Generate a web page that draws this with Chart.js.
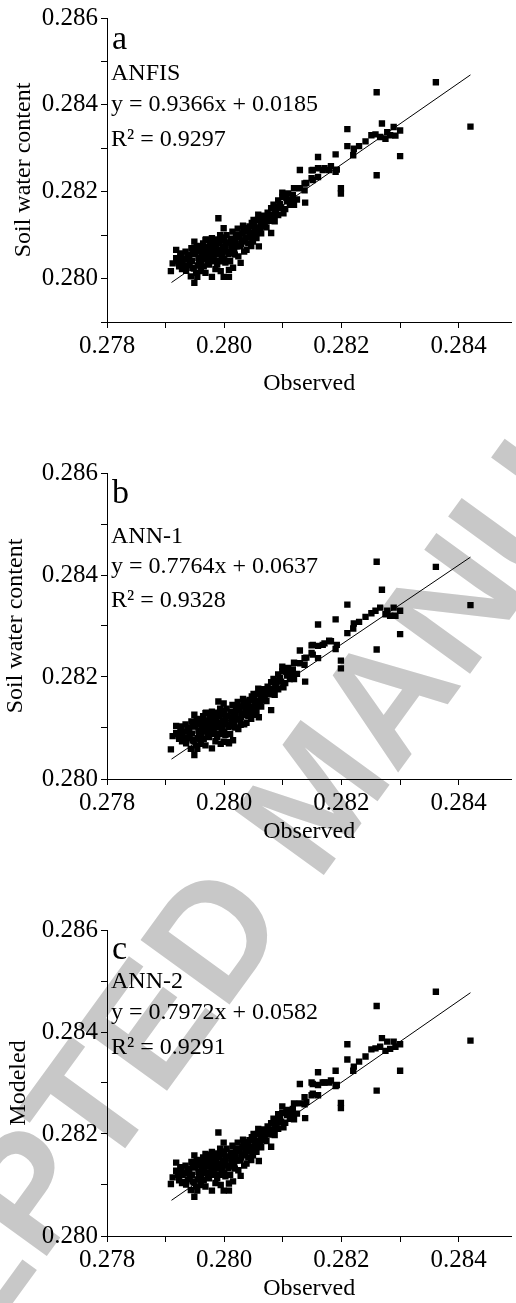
<!DOCTYPE html>
<html lang="en">
<head>
<meta charset="UTF-8">
<title>Observed vs modeled soil water content</title>
<script src="https://cdn.jsdelivr.net/npm/chart.js"></script>
<style>
  html, body { margin: 0; padding: 0; background: #fff; }
  #page { position: relative; width: 516px; height: 1303px; overflow: hidden; }
  canvas { position: absolute; left: 0; }
</style>
</head>
<body>
<div id="page">
  <canvas id="watermark" width="516" height="1303" style="top:0"></canvas>
  <canvas id="chartA" width="516" height="400" style="top:0"></canvas>
  <canvas id="chartB" width="516" height="406" style="top:440px"></canvas>
  <canvas id="chartC" width="516" height="403" style="top:900px"></canvas>
</div>
<script>
// observed soil water content (shared x of all three panels)
const observed = [
  0.27909, 0.27918, 0.27918, 0.27923, 0.27929, 0.27932, 0.27937, 0.27941, 0.27943, 0.27946,
  0.27946, 0.27949, 0.27949, 0.27952, 0.27952, 0.27954, 0.27957, 0.27960, 0.27960, 0.27963,
  0.27968, 0.27968, 0.27969, 0.27974, 0.27974, 0.27979, 0.27979, 0.27982, 0.27988, 0.27990,
  0.27991, 0.27994, 0.27996, 0.27999, 0.27999, 0.28002, 0.28002, 0.28008, 0.28008, 0.28010,
  0.28010, 0.28016, 0.28022, 0.28024, 0.28027, 0.28028, 0.28033, 0.28036, 0.28038, 0.28041,
  0.28041, 0.28047, 0.28049, 0.28050, 0.28052, 0.28055, 0.28058, 0.28059, 0.28064, 0.28069,
  0.28070, 0.28075, 0.28080, 0.28080, 0.28080, 0.28084, 0.28089, 0.28089, 0.28097, 0.28099,
  0.28099, 0.28101, 0.28109, 0.28114, 0.28119, 0.28119, 0.28129, 0.28129, 0.28137, 0.28137,
  0.28138, 0.28140, 0.28149, 0.28149, 0.28151, 0.28151, 0.28160, 0.28160, 0.28160, 0.28168,
  0.28171, 0.28179, 0.28182, 0.28190, 0.28190, 0.28192, 0.28199, 0.28199, 0.28210, 0.28210,
  0.28220, 0.28221, 0.28230, 0.28241, 0.28251, 0.28258, 0.28260, 0.28260, 0.28266, 0.28269,
  0.28275, 0.28278, 0.28283, 0.28289, 0.28292, 0.28300, 0.28300, 0.28361, 0.28420, 0.27926,
  0.27935, 0.27940, 0.27955, 0.27962, 0.27965, 0.27971, 0.27977, 0.27980, 0.27985, 0.27988,
  0.27993, 0.27997, 0.28000, 0.28005, 0.28013, 0.28018, 0.28020, 0.28030, 0.28034, 0.28044,
  0.28046, 0.28061, 0.28066, 0.28092, 0.28107, 0.27912, 0.27985, 0.28015,
  0.27921, 0.27925, 0.27928, 0.27931, 0.27934, 0.27938, 0.27940, 0.27944, 0.27945, 0.27948,
  0.27950, 0.27953, 0.27956, 0.27958, 0.27961, 0.27964, 0.27966, 0.27967, 0.27970, 0.27972,
  0.27975, 0.27976, 0.27978, 0.27981, 0.27983, 0.27984, 0.27986, 0.27989, 0.27992, 0.27993,
  0.27995, 0.27998, 0.28000, 0.28001, 0.28004, 0.28006, 0.28007, 0.28011, 0.28012, 0.28014,
  0.28017, 0.28019, 0.28021, 0.28023, 0.28026, 0.28029, 0.28031, 0.28032, 0.28035, 0.28037,
  0.28040, 0.28043, 0.28045, 0.28048, 0.28051, 0.28053, 0.28056, 0.28057, 0.28062, 0.28063,
  0.28067, 0.28068, 0.28072, 0.28074, 0.28077, 0.28082, 0.28086, 0.28087, 0.28092, 0.28095,
  0.28104, 0.28106, 0.28112, 0.28117, 0.28124
];

// modeled values, panel a
const anfis = [
  0.28017, 0.28066, 0.28047, 0.28028, 0.28040, 0.28028, 0.28055, 0.28035, 0.28005, 0.28059,
  0.28025, 0.28085, 0.27990, 0.28062, 0.28013, 0.28004, 0.28040, 0.28017, 0.28074, 0.28070,
  0.28089, 0.28013, 0.28090, 0.28032, 0.28059, 0.28093, 0.28004, 0.28051, 0.28032, 0.28139,
  0.28066, 0.28017, 0.28051, 0.28116, 0.28004, 0.28078, 0.28037, 0.28004, 0.28020, 0.28059,
  0.28040, 0.28085, 0.28101, 0.28051, 0.28074, 0.28036, 0.28112, 0.28093, 0.28066, 0.28116,
  0.28081, 0.28128, 0.28085, 0.28135, 0.28112, 0.28093, 0.28147, 0.28074, 0.28131, 0.28120,
  0.28135, 0.28143, 0.28162, 0.28147, 0.28105, 0.28170, 0.28154, 0.28166, 0.28163, 0.28198,
  0.28188, 0.28150, 0.28196, 0.28181, 0.28208, 0.28170, 0.28250, 0.28208, 0.28219, 0.28203,
  0.28175, 0.28220, 0.28249, 0.28231, 0.28250, 0.28227, 0.28280, 0.28254, 0.28234, 0.28250,
  0.28254, 0.28250, 0.28259, 0.28286, 0.28246, 0.28251, 0.28208, 0.28196, 0.28344, 0.28305,
  0.28284, 0.28299, 0.28305, 0.28316, 0.28330, 0.28332, 0.28429, 0.28238, 0.28326, 0.28357,
  0.28322, 0.28337, 0.28330, 0.28349, 0.28329, 0.28341, 0.28282, 0.28452, 0.28350, 0.28050,
  0.28018, 0.28045, 0.28030, 0.28052, 0.28028, 0.28072, 0.28045, 0.28078, 0.28062, 0.28088,
  0.28040, 0.28072, 0.28095, 0.28062, 0.28078, 0.28055, 0.28098, 0.28088, 0.28062, 0.28100,
  0.28075, 0.28110, 0.28140, 0.28180, 0.28178, 0.28035, 0.28022, 0.28025,
  0.28040, 0.28058, 0.28022, 0.28045, 0.28062, 0.28030, 0.28052, 0.28070, 0.28041, 0.28023,
  0.28057, 0.28075, 0.28048, 0.28064, 0.28036, 0.28081, 0.28058, 0.28045, 0.28063, 0.28038,
  0.28084, 0.28070, 0.28056, 0.28067, 0.28040, 0.28090, 0.28075, 0.28055, 0.28082, 0.28100,
  0.28062, 0.28088, 0.28045, 0.28070, 0.28100, 0.28083, 0.28056, 0.28092, 0.28070, 0.28108,
  0.28064, 0.28086, 0.28074, 0.28115, 0.28095, 0.28080, 0.28104, 0.28122, 0.28085, 0.28108,
  0.28095, 0.28120, 0.28105, 0.28092, 0.28124, 0.28102, 0.28118, 0.28135, 0.28122, 0.28104,
  0.28145, 0.28130, 0.28118, 0.28152, 0.28133, 0.28145, 0.28132, 0.28158, 0.28146, 0.28172,
  0.28160, 0.28186, 0.28170, 0.28192, 0.28182
];

// modeled values, panel b
const ann1 = [
  0.28058, 0.28104, 0.28090, 0.28079, 0.28088, 0.28076, 0.28101, 0.28084, 0.28059, 0.28104,
  0.28076, 0.28126, 0.28047, 0.28107, 0.28066, 0.28059, 0.28088, 0.28069, 0.28117, 0.28113,
  0.28129, 0.28066, 0.28130, 0.28082, 0.28104, 0.28132, 0.28060, 0.28098, 0.28082, 0.28152,
  0.28110, 0.28069, 0.28098, 0.28148, 0.28073, 0.28120, 0.28086, 0.28070, 0.28072, 0.28104,
  0.28088, 0.28126, 0.28139, 0.28098, 0.28117, 0.28106, 0.28148, 0.28132, 0.28110, 0.28152,
  0.28123, 0.28162, 0.28126, 0.28167, 0.28148, 0.28132, 0.28177, 0.28121, 0.28164, 0.28155,
  0.28167, 0.28174, 0.28190, 0.28177, 0.28135, 0.28196, 0.28183, 0.28193, 0.28191, 0.28220,
  0.28211, 0.28180, 0.28218, 0.28206, 0.28228, 0.28196, 0.28252, 0.28227, 0.28237, 0.28224,
  0.28191, 0.28238, 0.28262, 0.28247, 0.28263, 0.28244, 0.28303, 0.28261, 0.28237, 0.28263,
  0.28266, 0.28271, 0.28270, 0.28313, 0.28255, 0.28263, 0.28232, 0.28217, 0.28342, 0.28286,
  0.28295, 0.28305, 0.28308, 0.28318, 0.28325, 0.28330, 0.28426, 0.28254, 0.28336, 0.28371,
  0.28323, 0.28330, 0.28320, 0.28336, 0.28320, 0.28330, 0.28284, 0.28416, 0.28341, 0.28097,
  0.28070, 0.28093, 0.28080, 0.28098, 0.28079, 0.28115, 0.28093, 0.28120, 0.28107, 0.28128,
  0.28088, 0.28115, 0.28134, 0.28107, 0.28120, 0.28101, 0.28137, 0.28128, 0.28107, 0.28138,
  0.28118, 0.28147, 0.28172, 0.28205, 0.28203, 0.28084, 0.28074, 0.28076,
  0.28088, 0.28103, 0.28074, 0.28093, 0.28107, 0.28080, 0.28098, 0.28113, 0.28089, 0.28074,
  0.28103, 0.28118, 0.28095, 0.28108, 0.28085, 0.28123, 0.28103, 0.28093, 0.28108, 0.28087,
  0.28125, 0.28113, 0.28102, 0.28111, 0.28088, 0.28130, 0.28118, 0.28101, 0.28123, 0.28138,
  0.28107, 0.28128, 0.28093, 0.28113, 0.28138, 0.28124, 0.28102, 0.28132, 0.28113, 0.28145,
  0.28108, 0.28127, 0.28117, 0.28151, 0.28134, 0.28122, 0.28142, 0.28157, 0.28126, 0.28145,
  0.28134, 0.28155, 0.28142, 0.28132, 0.28158, 0.28140, 0.28153, 0.28167, 0.28157, 0.28142,
  0.28176, 0.28163, 0.28153, 0.28181, 0.28166, 0.28176, 0.28165, 0.28186, 0.28176, 0.28198,
  0.28188, 0.28210, 0.28196, 0.28215, 0.28206
];

// modeled values, panel c
const ann2 = [
  0.28102, 0.28144, 0.28128, 0.28109, 0.28120, 0.28106, 0.28132, 0.28115, 0.28090, 0.28136,
  0.28107, 0.28158, 0.28077, 0.28138, 0.28097, 0.28089, 0.28120, 0.28100, 0.28148, 0.28145,
  0.28161, 0.28097, 0.28159, 0.28113, 0.28136, 0.28165, 0.28089, 0.28129, 0.28113, 0.28203,
  0.28142, 0.28100, 0.28129, 0.28183, 0.28089, 0.28152, 0.28117, 0.28089, 0.28103, 0.28136,
  0.28120, 0.28158, 0.28171, 0.28129, 0.28148, 0.28118, 0.28181, 0.28165, 0.28142, 0.28184,
  0.28154, 0.28194, 0.28158, 0.28200, 0.28181, 0.28165, 0.28210, 0.28147, 0.28197, 0.28188,
  0.28200, 0.28207, 0.28221, 0.28208, 0.28175, 0.28230, 0.28216, 0.28227, 0.28224, 0.28254,
  0.28241, 0.28213, 0.28247, 0.28239, 0.28260, 0.28229, 0.28298, 0.28260, 0.28272, 0.28258,
  0.28231, 0.28263, 0.28301, 0.28276, 0.28298, 0.28279, 0.28321, 0.28296, 0.28276, 0.28301,
  0.28301, 0.28301, 0.28305, 0.28324, 0.28294, 0.28296, 0.28261, 0.28251, 0.28376, 0.28346,
  0.28324, 0.28332, 0.28342, 0.28352, 0.28366, 0.28368, 0.28451, 0.28285, 0.28371, 0.28388,
  0.28363, 0.28381, 0.28367, 0.28381, 0.28371, 0.28376, 0.28324, 0.28479, 0.28383, 0.28128,
  0.28101, 0.28124, 0.28111, 0.28130, 0.28109, 0.28147, 0.28124, 0.28152, 0.28138, 0.28160,
  0.28120, 0.28147, 0.28166, 0.28138, 0.28152, 0.28132, 0.28169, 0.28160, 0.28138, 0.28171,
  0.28149, 0.28179, 0.28205, 0.28239, 0.28237, 0.28115, 0.28104, 0.28107,
  0.28120, 0.28135, 0.28104, 0.28124, 0.28138, 0.28111, 0.28130, 0.28145, 0.28120, 0.28105,
  0.28134, 0.28149, 0.28126, 0.28140, 0.28116, 0.28154, 0.28135, 0.28124, 0.28139, 0.28118,
  0.28157, 0.28145, 0.28133, 0.28142, 0.28120, 0.28162, 0.28149, 0.28132, 0.28155, 0.28171,
  0.28138, 0.28160, 0.28124, 0.28145, 0.28171, 0.28156, 0.28133, 0.28164, 0.28145, 0.28177,
  0.28140, 0.28159, 0.28148, 0.28183, 0.28166, 0.28154, 0.28174, 0.28189, 0.28158, 0.28177,
  0.28166, 0.28188, 0.28175, 0.28164, 0.28191, 0.28172, 0.28186, 0.28200, 0.28189, 0.28174,
  0.28209, 0.28196, 0.28186, 0.28215, 0.28199, 0.28209, 0.28198, 0.28220, 0.28210, 0.28232,
  0.28222, 0.28244, 0.28230, 0.28249, 0.28240
];

// regression line end points
const fitX = [0.2791, 0.2842];
const fitA = [0.27991, 0.28469];
const fitB = [0.28039, 0.28435];
const fitC = [0.28070, 0.28477];

const panelLetters = ['a', 'b', 'c'];
const modelNames = ['ANFIS', 'ANN-1', 'ANN-2'];
const equations = ['y = 0.9366x + 0.0185', 'y = 0.7764x + 0.0637', 'y = 0.7972x + 0.0582'];
const r2Values = ['R\u00B2 = 0.9297', 'R\u00B2 = 0.9328', 'R\u00B2 = 0.9291'];
const yTitles = ['Soil water content', 'Soil water content', 'Modeled'];

Chart.defaults.font.family = "'Liberation Serif', 'Times New Roman', serif";
Chart.defaults.font.size = 24;
Chart.defaults.color = '#000';

function evenLabel(v) {
  const k = Math.round(v * 1000);
  return k % 2 === 0 ? (k / 1000).toFixed(3) : '';
}

// text block in the upper left of each plot
const notesPlugin = {
  id: 'notes',
  afterDraw(chart, args, opts) {
    const ctx = chart.ctx;
    const area = chart.chartArea;
    ctx.save();
    ctx.fillStyle = '#000';
    ctx.textAlign = 'left';
    ctx.textBaseline = 'alphabetic';
    opts.lines.forEach(l => {
      ctx.font = l.size + "px 'Liberation Serif', 'Times New Roman', serif";
      ctx.fillText(l.text, area.left + l.dx, area.top + l.dy);
    });
    ctx.restore();
  }
};

function makePanel(id, i, modeled, fit, yMin, lay) {
  const pts = observed.map((x, k) => ({ x: x, y: modeled[k] }));
  const line = fitX.map((x, k) => ({ x: x, y: fit[k] }));
  return new Chart(document.getElementById(id), {
    type: 'scatter',
    data: {
      datasets: [
        { type: 'scatter', data: pts, pointStyle: 'rect', pointRadius: 4.5,
          backgroundColor: '#000', borderWidth: 0 },
        { type: 'line', data: line, borderColor: '#000', borderWidth: 1,
          pointRadius: 0, fill: false }
      ]
    },
    options: {
      responsive: false,
      animation: false,
      events: [],
      layout: { padding: { top: lay.top, right: 0, bottom: 0, left: 0 } },
      plugins: {
        legend: { display: false },
        tooltip: { enabled: false },
        notes: {
          lines: [
            { text: panelLetters[i], size: 34, dx: 5, dy: lay.dy[0] },
            { text: modelNames[i], size: 24, dx: 4, dy: lay.dy[1] },
            { text: equations[i], size: 24, dx: 4, dy: lay.dy[2] },
            { text: r2Values[i], size: 24, dx: 4, dy: lay.dy[3] }
          ]
        }
      },
      scales: {
        x: {
          type: 'linear', min: 0.278, max: 0.2849,
          afterFit: s => { s.height = lay.xh; },
          ticks: { stepSize: 0.001, includeBounds: false, autoSkip: false, maxRotation: 0,
                   padding: 3, font: { size: 25 }, callback: evenLabel },
          grid: { drawOnChartArea: false, tickLength: 6, color: '#000' },
          border: { color: '#000', width: 1 },
          title: { display: true, text: 'Observed', padding: { top: 0, bottom: lay.xpb } }
        },
        y: {
          type: 'linear', min: yMin, max: 0.286,
          afterFit: s => { s.width = 107; },
          ticks: { stepSize: 0.001, includeBounds: false, autoSkip: false, padding: 3,
                   font: { size: 25 }, callback: evenLabel },
          grid: { drawOnChartArea: false, tickLength: 6, color: '#000' },
          border: { color: '#000', width: 1 },
          title: { display: true, text: yTitles[i], padding: { top: lay.ypt, bottom: 0 } }
        }
      }
    },
    plugins: [notesPlugin]
  });
}

// grey "ACCEPTED MANUSCRIPT" stamp behind the plots
function drawWatermark() {
  const ctx = document.getElementById('watermark').getContext('2d');
  const size = 160;
  ctx.save();
  ctx.translate(258, 868);
  ctx.rotate(-54 * Math.PI / 180);
  ctx.font = 'bold ' + size + "px 'Liberation Sans', Arial, sans-serif";
  ctx.fillStyle = '#c8c8c8';
  ctx.textBaseline = 'alphabetic';
  const gap = ctx.measureText(' ').width;
  const capMid = size * 0.716 / 2;
  ctx.textAlign = 'right';
  ctx.fillText('ACCEPTED', -gap / 2, capMid);
  ctx.textAlign = 'left';
  ctx.fillText('MANUSCRIPT', gap / 2, capMid);
  ctx.restore();
}

drawWatermark();
makePanel('chartA', 0, anfis, fitA, 0.279, { top: 17, xh: 78, xpb: 2, ypt: 9, dy: [31, 62, 93, 128] });
makePanel('chartB', 1, ann1, fitB, 0.280, { top: 33, xh: 67, xpb: 0, ypt: 1, dy: [30, 70, 100, 134] });
makePanel('chartC', 2, ann2, fitC, 0.280, { top: 30, xh: 67, xpb: 0, ypt: 4, dy: [29, 58, 89, 124] });
</script>
</body>
</html>
